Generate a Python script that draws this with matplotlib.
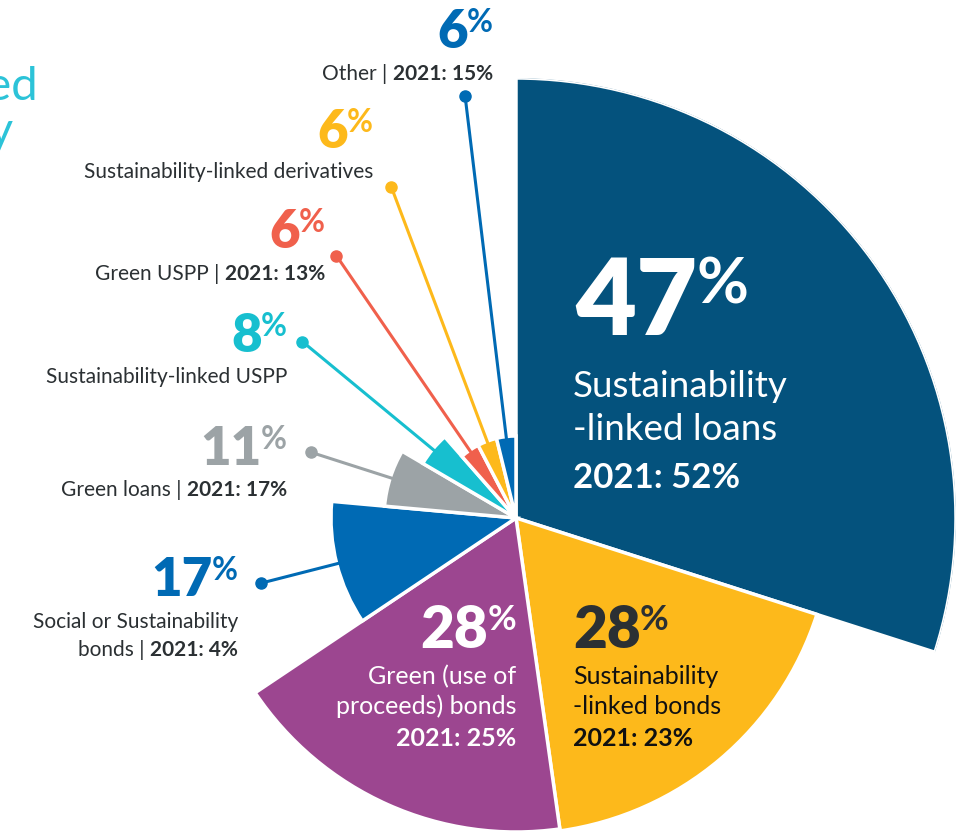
import numpy as np
import matplotlib
matplotlib.use("Agg")
import matplotlib.pyplot as plt
from matplotlib.transforms import Affine2D

plt.rcParams['font.family'] = ['Lato', 'DejaVu Sans']

# instruments, clockwise from twelve o'clock
names = ["Sustainability\n-linked loans", "Sustainability\n-linked bonds",
         "Green (use of\nproceeds) bonds", "Social or Sustainability\nbonds",
         "Green loans", "Sustainability-linked USPP", "Green USPP",
         "Sustainability-linked derivatives", "Other"]
share = [47, 28, 28, 17, 11, 8, 6, 6, 6]              # % of respondents, 2022
share_2021 = [52, 23, 25, 4, 17, None, 13, None, 15]
reach = [440, 316, 314, 185, 132, 108, 82, 82, 82]    # wedge radius
colors = ["#04527d", "#fdb91b", "#9c4690", "#006ab4", "#9ca3a6",
          "#17bfcf", "#f0604c", "#fdb91b", "#006ab4"]

DARK = "#2b3033"
CYAN_TITLE = "#2cc3d8"
W, H = 960, 836
CX, CY = 516, 518   # wheel centre, pixels from top-left

fig = plt.figure(figsize=(W / 100, H / 100), dpi=100)
PX = Affine2D().scale(1, -1).translate(0, H)   # top-left pixel coordinates

R = max(reach)
ax = fig.add_axes([(CX - R) / W, (H - CY - R) / H, 2 * R / W, 2 * R / H],
                  projection="polar")
ax.set_theta_offset(np.pi / 2)
ax.set_theta_direction(-1)
ax.set_ylim(0, R)
ax.axis("off")

widths = 2 * np.pi * np.array(share) / sum(share)
starts = np.concatenate([[0], np.cumsum(widths)[:-1]])
mids = starts + widths / 2
ax.bar(starts, reach, width=widths, align="edge", color=colors,
       edgecolor="white", linewidth=2.5)

# leader lines for the small wedges
leader_r = [None, None, None, 263, 215, 277, 318, 354, 425]
for m, r0, r1, c in zip(mids, reach, leader_r, colors):
    if r1 is None:
        continue
    ax.plot([m, m], [r0 - 4, r1], color=c, lw=2.2, clip_on=False)
    ax.plot([m], [r1], "o", color=c, ms=8, clip_on=False)

fig.canvas.draw()
rend = fig.canvas.get_renderer()


def put(x, y, s, **kw):
    kw.setdefault("va", "baseline")
    return fig.text(x, y, s, transform=PX, **kw)


def edges(t):
    bb = t.get_window_extent(rend)
    return bb.x0, bb.x1


def percent(x, y, value, size, color, ha="right"):
    lift = 0.42 * size * 0.72 * 100 / 72
    psize = size * 0.6
    if ha == "right":
        p = put(x, y - lift, "%", ha="right", fontsize=psize,
                fontweight="bold", color=color)
        put(edges(p)[0] + 1, y, str(value), ha="right", fontsize=size,
            fontweight="heavy", color=color)
    else:
        n = put(x, y, str(value), ha="left", fontsize=size,
                fontweight="heavy", color=color)
        put(edges(n)[1] - 1, y - lift, "%", ha="left", fontsize=psize,
            fontweight="bold", color=color)


def tagline(x, y, plain, bold, size, color=DARK):
    b = put(x, y, bold, ha="right", fontsize=size, fontweight="bold", color=color)
    put(edges(b)[0], y, plain, ha="right", fontsize=size, color=color)


# labels outside the wheel: right edge, number baseline, first text baseline
outside = {3: (238, 596, 628), 4: (287, 465, 496), 5: (287, 352, 383),
           6: (325, 248, 280), 7: (373, 148, 178), 8: (493, 48, 80)}
pct_colors = {4: "#9ca3a6"}
for i, (x, yn, yt) in outside.items():
    percent(x, yn, share[i], 38, pct_colors.get(i, colors[i]))
    lines = names[i].split("\n")
    for k, ln in enumerate(lines[:-1]):
        put(x, yt + 28 * k, ln, ha="right", fontsize=15, color=DARK)
    y_last = yt + 28 * (len(lines) - 1)
    if share_2021[i] is None:
        put(x, y_last, lines[-1], ha="right", fontsize=15, color=DARK)
    else:
        tagline(x, y_last, lines[-1] + " | ", f"2021: {share_2021[i]}%", 15)

# labels inside the three large wedges
percent(575, 335, share[0], 76, "white", ha="left")
for k, ln in enumerate(names[0].split("\n")):
    put(573, 397 + 43 * k, ln, ha="left", fontsize=26.5, color="white")
put(573, 488, f"2021: {share_2021[0]}%", ha="left", fontsize=25,
    fontweight="bold", color="white")

percent(573, 648, share[1], 42, DARK, ha="left")
for k, ln in enumerate(names[1].split("\n")):
    put(573, 684 + 30 * k, ln, ha="left", fontsize=18, color="#111111")
put(573, 746, f"2021: {share_2021[1]}%", ha="left", fontsize=18,
    fontweight="bold", color="#111111")

percent(516, 648, share[2], 42, "white")
for k, ln in enumerate(names[2].split("\n")):
    put(516, 684 + 30 * k, ln, ha="right", fontsize=18, color="white")
put(516, 746, f"2021: {share_2021[2]}%", ha="right", fontsize=18,
    fontweight="bold", color="white")

# heading running in from the left margin
put(38, 100, "Financing instruments used", ha="right", fontsize=34,
    fontweight="normal", color=CYAN_TITLE)
put(13, 145, "by the industry", ha="right", fontsize=34,
    fontweight="normal", color=CYAN_TITLE)

fig.savefig("out.png", dpi=100)
